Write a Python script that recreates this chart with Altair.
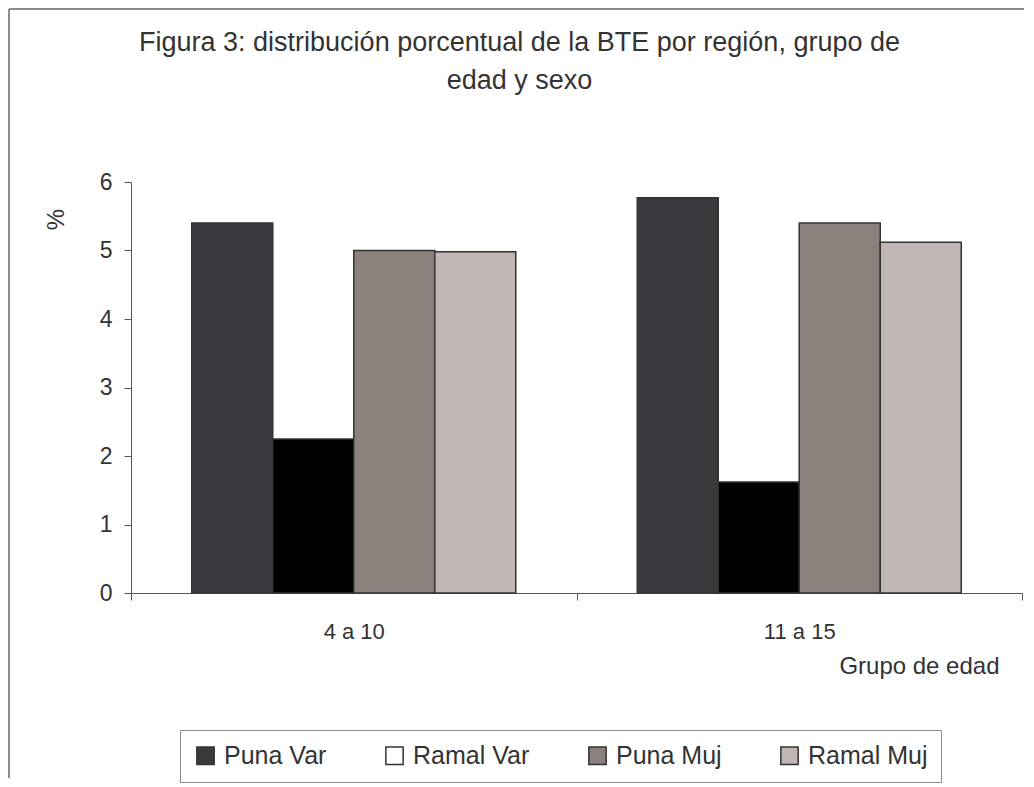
import altair as alt
import pandas as pd

groups = ["4 a 10", "11 a 15"]
series = ["Puna Var", "Ramal Var", "Puna Muj", "Ramal Muj"]
values_4_10 = [5.4, 2.25, 5.0, 4.98]
values_11_15 = [5.77, 1.62, 5.4, 5.12]
bar_colors = ["#3a393e", "#000000", "#8c817c", "#c0b6b3"]
legend_colors = ["#3a393e", "#ffffff", "#8c817c", "#c0b6b3"]
y_ticks = [0, 1, 2, 3, 4, 5, 6]

rows = []
for g, vals in zip(groups, [values_4_10, values_11_15]):
    for s, v in zip(series, vals):
        rows.append({"grupo": g, "serie": s, "valor": v})
df = pd.DataFrame(rows)

W, H = 891, 411
FONT = "Liberation Sans"
TXT = "#333333"

x_enc = alt.X(
    "grupo:N",
    sort=groups,
    scale=alt.Scale(paddingInner=0, paddingOuter=0),
    axis=alt.Axis(
        title="Grupo de edad",
        labelAngle=0,
        labelFontSize=22,
        labelColor=TXT,
        labelFont=FONT,
        labelPadding=21,
        domainColor="#555555",
        tickColor="#555555",
        tickSize=7,
        tickBand="extent",
        titleFont=FONT,
        titleFontSize=24,
        titleFontWeight="normal",
        titleColor=TXT,
        titleAnchor="end",
        titleAlign="right",
        titleX=868,
        titleY=73,
        titleBaseline="middle",
    ),
)
y_enc = alt.Y(
    "valor:Q",
    scale=alt.Scale(domain=[0, 6], nice=False),
    axis=alt.Axis(
        title="%",
        values=y_ticks,
        format="d",
        grid=False,
        labelFontSize=23,
        labelColor=TXT,
        labelFont=FONT,
        labelPadding=12,
        domainColor="#555555",
        tickColor="#555555",
        tickSize=7,
        titleFont=FONT,
        titleFontSize=24,
        titleFontWeight="normal",
        titleColor=TXT,
        titleX=-75,
        titleY=37,
        titleAlign="center",
        titleBaseline="middle",
    ),
)

bars = alt.Chart(df).mark_bar(stroke="#333333", strokeWidth=1.5).encode(
    x=x_enc,
    y=y_enc,
    xOffset=alt.XOffset(
        "serie:N",
        sort=series,
        scale=alt.Scale(paddingInner=0, paddingOuter=0.75),
    ),
    color=alt.Color(
        "serie:N",
        sort=series,
        scale=alt.Scale(domain=series, range=bar_colors),
        legend=None,
    ),
)

legend_layer = alt.Chart(df).mark_point(shape="square", filled=True, opacity=0).encode(
    x=alt.X("grupo:N", sort=groups),
    y="valor:Q",
    fill=alt.Fill(
        "serie:N",
        sort=series,
        scale=alt.Scale(domain=series, range=legend_colors),
        legend=alt.Legend(
            title=None,
            orient="none",
            legendX=49,
            legendY=548,
            direction="horizontal",
            symbolType="square",
            symbolSize=300,
            symbolOpacity=1,
            symbolStrokeColor="#333333",
            symbolStrokeWidth=1.5,
            labelFontSize=25,
            labelFont=FONT,
            labelColor=TXT,
            labelOffset=6,
            columnPadding=55,
            padding=13,
            strokeColor="#888888",
            fillColor="white",
        ),
    ),
)

frame_data = alt.Data(values=[{"k": 1}])
frame_left = alt.Chart(frame_data).mark_rule(color="#666666", strokeWidth=1.5).encode(
    x=alt.value(-122), y=alt.value(-173), y2=alt.value(596)
)
frame_top = alt.Chart(frame_data).mark_rule(color="#666666", strokeWidth=1.5).encode(
    x=alt.value(-122), x2=alt.value(893), y=alt.value(-173)
)

chart = (
    alt.layer(frame_left, frame_top, bars, legend_layer)
    .resolve_scale(color="independent", fill="independent")
    .properties(
        width=W,
        height=H,
        padding={"left": 0, "top": 0, "right": 0, "bottom": 0},
        title=alt.TitleParams(
            text=["Figura 3: distribución porcentual de la BTE por región, grupo de", "edad y sexo"],
            font=FONT,
            fontSize=27,
            fontWeight="normal",
            color=TXT,
            anchor="middle",
            frame="group",
            dx=-57,
            offset=-87,
            lineHeight=38,
        ),
    )
    .configure_view(stroke=None)
)

chart.save("out.html", embed_options={"renderer": "svg", "actions": False})
